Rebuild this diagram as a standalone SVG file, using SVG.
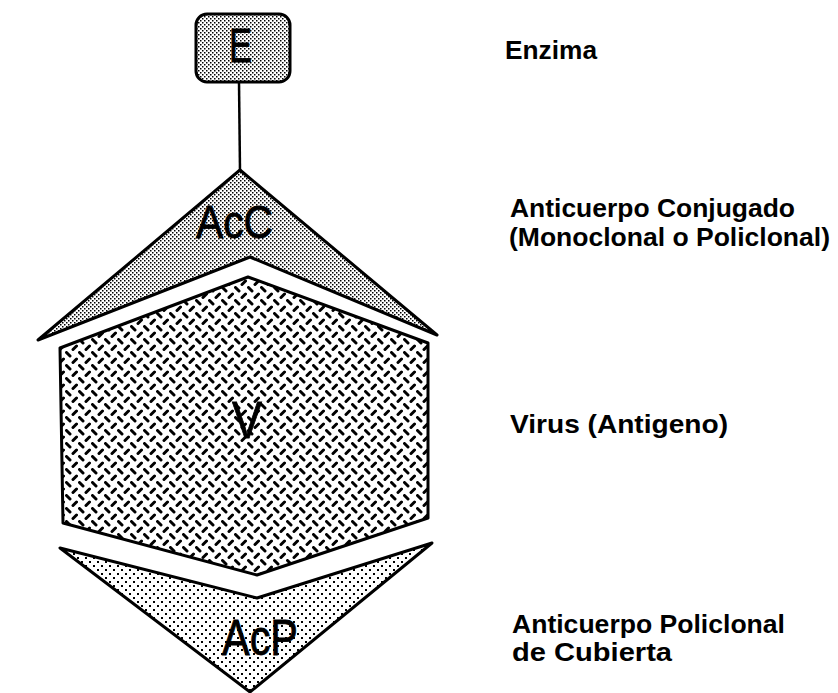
<svg xmlns="http://www.w3.org/2000/svg" width="838" height="693" viewBox="0 0 838 693">
<style>
.shape{stroke:#000;stroke-width:3;stroke-linejoin:round}
.inlbl{font-family:"Liberation Sans",Arial,sans-serif;font-weight:normal;fill:#000;stroke:#000;stroke-width:0.8}
.lbl{font-family:"Liberation Sans",Arial,sans-serif;font-weight:bold;font-size:25px;fill:#000}
.conn{stroke:#000;stroke-width:2.5;fill:none}
</style>
<defs>
<pattern id="fine" width="4" height="4" patternUnits="userSpaceOnUse">
<rect width="4" height="4" fill="#fff"/>
<rect x="0" y="0" width="1.5" height="1.5" fill="#000"/>
<rect x="2" y="2" width="1.5" height="1.5" fill="#000"/>
</pattern>
<pattern id="sparse" width="8" height="8" patternUnits="userSpaceOnUse">
<rect width="8" height="8" fill="#fff"/>
<rect x="1" y="1" width="2" height="2" fill="#000"/>
<rect x="5" y="5" width="2" height="2" fill="#000"/>
</pattern>
<pattern id="plate" width="13" height="13" patternUnits="userSpaceOnUse">
<rect width="13" height="13" fill="#fff"/>
<line x1="1.5" y1="1.5" x2="5" y2="5" stroke="#000" stroke-width="3" stroke-linecap="round"/>
<line x1="8" y1="11.5" x2="11.5" y2="8" stroke="#000" stroke-width="3" stroke-linecap="round"/>
</pattern>
</defs>
<g id="connectors">
<line class="conn" x1="239" y1="82" x2="240" y2="171"/>
</g>
<g id="node-E">
<rect class="shape" x="196" y="14" width="94" height="68" rx="11" fill="url(#fine)"/>
<text class="inlbl" x="229" y="62" font-size="48" textLength="23" lengthAdjust="spacingAndGlyphs">E</text>
</g>
<g id="node-AcC">
<polygon class="shape" points="240,170 437,335 250,257 38,340" fill="url(#fine)"/>
<text class="inlbl" x="196" y="238" font-size="47" textLength="77" lengthAdjust="spacingAndGlyphs">AcC</text>
</g>
<g id="node-V">
<polygon class="shape" points="248,277 428,343 428,518 257,575 63,523 60,348" fill="url(#plate)"/>
<text class="inlbl" x="232" y="438" font-size="52" textLength="30" lengthAdjust="spacingAndGlyphs">V</text>
</g>
<g id="node-AcP">
<polygon class="shape" points="60,548 257,598 432,543 250,692" fill="url(#sparse)"/>
<text class="inlbl" x="222" y="655" font-size="50" textLength="76" lengthAdjust="spacingAndGlyphs">AcP</text>
</g>
<g id="labels">
<text class="lbl" x="505" y="59" textLength="92" lengthAdjust="spacingAndGlyphs">Enzima</text>
<text class="lbl" x="510" y="217" textLength="285" lengthAdjust="spacingAndGlyphs">Anticuerpo  Conjugado</text>
<text class="lbl" x="509" y="246" textLength="321" lengthAdjust="spacingAndGlyphs">(Monoclonal o Policlonal)</text>
<text class="lbl" x="510" y="433" textLength="218" lengthAdjust="spacingAndGlyphs">Virus  (Antigeno)</text>
<text class="lbl" x="512" y="633" textLength="273" lengthAdjust="spacingAndGlyphs">Anticuerpo Policlonal</text>
<text class="lbl" x="512" y="661" textLength="160" lengthAdjust="spacingAndGlyphs">de Cubierta</text>
</g>
</svg>
